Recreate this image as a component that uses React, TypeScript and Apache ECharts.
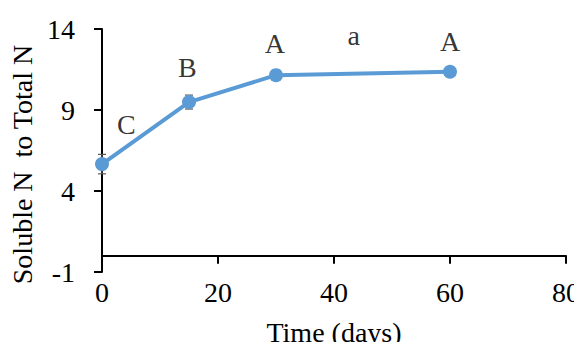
import React, { useEffect, useRef } from "react";
import * as echarts from "echarts";

const days = [0, 15, 30, 60];
const ratio = [5.66, 9.49, 11.15, 11.36];
const errors = [0.6, 0.43, 0.25, 0.25];

const letterX = [4.2, 14.7, 29.8, 43.4, 60];
const letterY = [8.13, 11.62, 13.11, 13.6, 13.2];
const letterText = ["C", "B", "A", "a", "A"];

const xTicks = { min: 0, max: 80, interval: 20 };
const yTicks = { min: -1, max: 14, interval: 5 };

const FONT = "Liberation Serif";

export default function App() {
  const ref = useRef<HTMLDivElement>(null);
  useEffect(() => {
    if (!ref.current) return;
    const chart = echarts.init(ref.current, null, { renderer: "svg" });
    const lineData = days.map((d, i) => [d, ratio[i]]);
    const errData = days.map((d, i) => [d, ratio[i] - errors[i], ratio[i] + errors[i]]);
    const letterData = letterX.map((x, i) => ({ value: [x, letterY[i]], name: letterText[i] }));
    chart.setOption({
      animation: false,
      textStyle: { fontFamily: FONT },
      grid: { left: 102, right: 16, top: 29, bottom: 78, containLabel: false, outerBoundsMode: "none" },
      xAxis: {
        type: "value",
        min: xTicks.min,
        max: xTicks.max,
        interval: xTicks.interval,
        name: "Time (days)",
        nameLocation: "middle",
        nameGap: 46,
        nameTextStyle: { fontFamily: FONT, fontSize: 28, color: "#000" },
        axisLine: { show: true, onZero: true, lineStyle: { color: "#000", width: 2 } },
        axisTick: { show: true, length: 8, lineStyle: { color: "#000", width: 2 } },
        axisLabel: { fontFamily: FONT, fontSize: 28, color: "#000", margin: 6 },
        splitLine: { show: false },
      },
      yAxis: {
        type: "value",
        min: yTicks.min,
        max: yTicks.max,
        interval: yTicks.interval,
        name: "Soluble N  to Total N",
        nameLocation: "middle",
        nameGap: 66,
        nameTextStyle: { fontFamily: FONT, fontSize: 28, color: "#000", padding: [0, 28, 0, 0] },
        axisLine: { show: true, onZero: false, lineStyle: { color: "#000", width: 2 } },
        axisTick: { show: true, length: 8, lineStyle: { color: "#000", width: 2 } },
        axisLabel: { fontFamily: FONT, fontSize: 28, color: "#000", margin: 27 },
        splitLine: { show: false },
      },
      series: [
        {
          type: "custom",
          z: 1,
          data: errData,
          renderItem: (params: any, api: any) => {
            const x = api.value(0);
            const lo = api.coord([x, api.value(1)]);
            const hi = api.coord([x, api.value(2)]);
            const w = 4;
            const style = { stroke: "#595959", lineWidth: 1.2 };
            return {
              type: "group",
              children: [
                { type: "line", shape: { x1: lo[0], y1: lo[1], x2: hi[0], y2: hi[1] }, style },
                { type: "line", shape: { x1: lo[0] - w, y1: lo[1], x2: lo[0] + w, y2: lo[1] }, style },
                { type: "line", shape: { x1: hi[0] - w, y1: hi[1], x2: hi[0] + w, y2: hi[1] }, style },
              ],
            };
          },
        },
        {
          type: "line",
          z: 2,
          data: lineData,
          symbol: "circle",
          symbolSize: 14,
          lineStyle: { color: "#5B9BD5", width: 4 },
          itemStyle: { color: "#5B9BD5" },
        },
        {
          type: "scatter",
          z: 3,
          data: letterData,
          symbolSize: 0,
          label: {
            show: true,
            position: "inside",
            formatter: (p: any) => p.name,
            fontFamily: FONT,
            fontSize: 28,
            color: "#000",
          },
        },
      ],
    });
    return () => chart.dispose();
  }, []);
  return <div ref={ref} style={{ width: 582, height: 350, margin: -8 }} />;
}
